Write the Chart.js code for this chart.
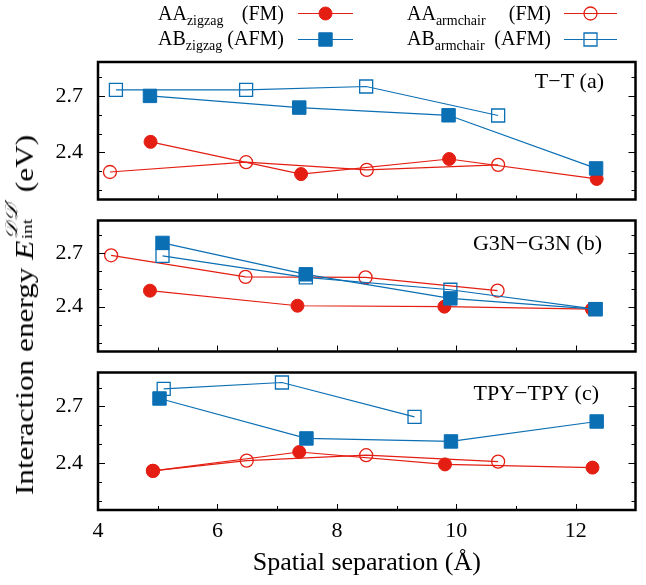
<!DOCTYPE html>
<html>
<head>
<meta charset="utf-8">
<script src="https://cdn.jsdelivr.net/npm/chart.js@4.4.1/dist/chart.umd.min.js"></script>
<style>
html, body { margin: 0; padding: 0; background: #fff; }
#wrap { position: relative; width: 646px; height: 585px; font-family: 'Liberation Serif', serif; color: #000; overflow: hidden; }
#wrap canvas { position: absolute; left: 0; }
.leg { position: absolute; display: flex; justify-content: space-between; font-size: 20px; line-height: 20px; white-space: nowrap; }
.leg sub { font-size: 14px; position: relative; top: 5px; vertical-align: baseline; }
#ytitle { position: absolute; left: -207px; top: 300px; width: 460px; height: 30px; line-height: 30px; font-size: 25px; text-align: center; transform: rotate(-90deg) scale(1.25, 1); white-space: nowrap; }
#ytitle .ss { display: inline-block; position: relative; width: 1.3em; height: 1em; }
#ytitle .ss span { position: absolute; left: 1px; line-height: 1; }
#ytitle .ss .up { top: -0.3em; font-size: 0.68em; font-family: 'DejaVu Serif', 'DejaVu Sans', serif; font-style: italic; }
#ytitle .ss .dn { top: 0.72em; font-size: 0.62em; }
</style>
</head>
<body>
<div id="wrap">
	<canvas id="panelA" width="646" height="210" style="top:0px"></canvas>
	<canvas id="panelB" width="646" height="152" style="top:210px"></canvas>
	<canvas id="panelC" width="646" height="223" style="top:362px"></canvas>

	<div class="leg" style="left:158px; top:3px; width:126px;"><span>AA<sub>zigzag</sub></span><span>(FM)</span></div>
	<div class="leg" style="left:158px; top:28px; width:126px;"><span>AB<sub>zigzag</sub></span><span>(AFM)</span></div>
	<div class="leg" style="left:407px; top:3px; width:144px;"><span>AA<sub>armchair</sub></span><span>(FM)</span></div>
	<div class="leg" style="left:407px; top:28px; width:144px;"><span>AB<sub>armchair</sub></span><span>(AFM)</span></div>

	<div id="ytitle">Interaction energy <i>E</i><span class="ss"><span class="up">𝒟𝒟′</span><span class="dn">int</span></span> (eV)</div>
</div>
<script>
(function () {
	'use strict';

	// axis ticks
	var xTickLabels = [4, 6, 8, 10, 12];
	var xMinorTicks = [5, 6, 7, 8, 9, 10, 11, 12];
	var yTickMarks = [2.2, 2.3, 2.4, 2.5, 2.6, 2.7, 2.8];
	var yTickLabels = [2.4, 2.7];

	// (a) T-T
	var aAAzigX = [4.88, 7.40, 9.88, 12.35];
	var aAAzigY = [2.456, 2.285, 2.365, 2.259];
	var aAAarmX = [4.20, 6.48, 8.50, 10.70];
	var aAAarmY = [2.296, 2.348, 2.307, 2.334];
	var aABzigX = [4.87, 7.37, 9.87, 12.34];
	var aABzigY = [2.700, 2.638, 2.597, 2.315];
	var aABarmX = [4.30, 6.48, 8.49, 10.70];
	var aABarmY = [2.732, 2.732, 2.750, 2.596];

	// (b) G3N-G3N
	var bAAzigX = [4.87, 7.34, 9.80, 12.27];
	var bAAzigY = [2.489, 2.405, 2.400, 2.386];
	var bAAarmX = [4.22, 6.47, 8.48, 10.69];
	var bAAarmY = [2.686, 2.566, 2.563, 2.489];
	var bABzigX = [5.08, 7.48, 9.90, 12.33];
	var bABzigY = [2.755, 2.580, 2.446, 2.386];
	var bABarmX = [5.08, 7.48, 9.90, 12.33];
	var bABarmY = [2.683, 2.563, 2.494, 2.386];

	// (c) TPY-TPY
	var cAAzigX = [4.92, 7.37, 9.81, 12.28];
	var cAAzigY = [2.358, 2.458, 2.392, 2.375];
	var cAAarmX = [4.92, 6.49, 8.49, 10.70];
	var cAAarmY = [2.358, 2.412, 2.441, 2.407];
	var cABzigX = [5.03, 7.49, 9.91, 12.35];
	var cABzigY = [2.742, 2.530, 2.514, 2.620];
	var cABarmX = [5.10, 7.08, 9.30];
	var cABarmY = [2.793, 2.827, 2.644];

	var RED = '#e41e12';
	var BLUE = '#0b6fb4';
	var FONT = 'Liberation Serif';

	var styles = {
		AAzig: { borderColor: RED, pointStyle: 'circle', pointRadius: 6.5, pointBackgroundColor: RED, pointBorderColor: RED, pointBorderWidth: 1, order: 1 },
		AAarm: { borderColor: RED, pointStyle: 'circle', pointRadius: 6.5, pointBackgroundColor: 'rgba(0,0,0,0)', pointBorderColor: RED, pointBorderWidth: 1.3, order: 3 },
		ABzig: { borderColor: BLUE, pointStyle: 'rect', pointRadius: 9.5, pointBackgroundColor: BLUE, pointBorderColor: BLUE, pointBorderWidth: 1, order: 0 },
		ABarm: { borderColor: BLUE, pointStyle: 'rect', pointRadius: 9.2, pointBackgroundColor: 'rgba(0,0,0,0)', pointBorderColor: BLUE, pointBorderWidth: 1.3, order: 2 }
	};

	function series(kind, xs, ys) {
		var d = {
			label: kind,
			data: xs.map(function (x, i) { return { x: x, y: ys[i] }; }),
			borderWidth: 1.2,
			tension: 0,
			fill: false
		};
		return Object.assign(d, styles[kind]);
	}

	function drawMarker(ctx, kind, x, y) {
		var s = styles[kind];
		var open = s.pointBackgroundColor.indexOf('rgba') === 0;
		ctx.save();
		ctx.beginPath();
		if (s.pointStyle === 'circle') {
			ctx.arc(x, y, s.pointRadius, 0, Math.PI * 2);
		} else {
			var h = s.pointRadius * Math.SQRT1_2;
			ctx.rect(x - h, y - h, 2 * h, 2 * h);
		}
		if (!open) {
			ctx.fillStyle = s.pointBackgroundColor;
			ctx.fill();
		}
		ctx.lineWidth = s.pointBorderWidth;
		ctx.strokeStyle = s.pointBorderColor;
		ctx.stroke();
		ctx.restore();
	}

	var framePlugin = {
		id: 'frame',
		afterDraw: function (chart, args, opts) {
			var ctx = chart.ctx;
			var a = chart.chartArea;
			var xs = chart.scales.x;
			var ys = chart.scales.y;
			ctx.save();
			ctx.strokeStyle = '#000';
			ctx.lineWidth = 1;
			yTickMarks.forEach(function (v) {
				var py = Math.round(ys.getPixelForValue(v)) + 0.5;
				var len = yTickLabels.indexOf(v) >= 0 ? 7 : 4;
				ctx.beginPath();
				ctx.moveTo(a.left, py); ctx.lineTo(a.left + len, py);
				ctx.moveTo(a.right, py); ctx.lineTo(a.right - len, py);
				ctx.stroke();
			});
			xMinorTicks.forEach(function (v) {
				var px = Math.round(xs.getPixelForValue(v)) + 0.5;
				var len = xTickLabels.indexOf(v) >= 0 ? 6 : 4;
				ctx.beginPath();
				ctx.moveTo(px, a.bottom); ctx.lineTo(px, a.bottom - len);
				ctx.stroke();
			});
			ctx.lineWidth = 2.5;
			ctx.strokeRect(a.left, a.top, a.right - a.left, a.bottom - a.top);

			ctx.fillStyle = '#000';
			ctx.font = '22px "' + FONT + '"';
			ctx.textAlign = 'right';
			ctx.textBaseline = 'middle';
			ctx.fillText(opts.tag, opts.tagX, a.top + opts.tagDy);

			if (opts.legend) {
				// legend samples (line + marker) in the top margin
				[['AAzig', 298, 353, 13.5], ['ABzig', 298, 353, 39.5], ['AAarm', 564, 617, 13.5], ['ABarm', 564, 617, 39.5]].forEach(function (k) {
					var s = styles[k[0]];
					ctx.beginPath();
					ctx.strokeStyle = s.borderColor;
					ctx.lineWidth = 1.2;
					ctx.moveTo(k[1], k[3]); ctx.lineTo(k[2], k[3]);
					ctx.stroke();
					drawMarker(ctx, k[0], (k[1] + k[2]) / 2, k[3]);
				});
			}
			ctx.restore();
		}
	};

	function makePanel(id, datasets, pad, showX, tag) {
		var ctx = document.getElementById(id).getContext('2d');
		return new Chart(ctx, {
			type: 'line',
			data: { datasets: datasets },
			plugins: [framePlugin],
			options: {
				responsive: false,
				animation: false,
				events: [],
				layout: { padding: { left: 0, right: 1, top: pad[0], bottom: pad[1] } },
				plugins: {
					legend: { display: false },
					tooltip: { enabled: false },
					frame: tag
				},
				scales: {
					x: {
						type: 'linear',
						min: 4,
						max: 13,
						afterBuildTicks: function (s) { s.ticks = xTickLabels.map(function (v) { return { value: v }; }); },
						afterFit: function (s) {
							s.height = showX ? 75 : 0;
							s.paddingLeft = 0;
							s.paddingRight = 0;
						},
						ticks: { display: showX, autoSkip: false, maxRotation: 0, padding: 8, color: '#000', font: { family: FONT, size: 22 } },
						grid: { display: false, drawTicks: false },
						border: { display: false },
						title: { display: showX, text: 'Spatial separation (Å)', color: '#000', font: { family: FONT, size: 26 }, padding: { top: 0, bottom: 6 } }
					},
					y: {
						type: 'linear',
						min: 2.15,
						max: 2.88,
						afterBuildTicks: function (s) { s.ticks = yTickMarks.map(function (v) { return { value: v }; }); },
						afterFit: function (s) {
							s.width = 98;
							s.paddingTop = 0;
							s.paddingBottom = 0;
						},
						ticks: {
							autoSkip: false,
							padding: 15,
							color: '#000',
							font: { family: FONT, size: 22 },
							callback: function (v) {
								var r = Math.round(v * 10) / 10;
								return yTickLabels.indexOf(r) >= 0 ? r.toFixed(1) : '';
							}
						},
						grid: { display: false, drawTicks: false },
						border: { display: false }
					}
				}
			}
		});
	}

	makePanel('panelA', [
		series('ABzig', aABzigX, aABzigY),
		series('AAzig', aAAzigX, aAAzigY),
		series('ABarm', aABarmX, aABarmY),
		series('AAarm', aAAarmX, aAAarmY)
	], [62, 7], false, { tag: 'T\u2212T (a)', tagX: 604, tagDy: 20, legend: true });

	makePanel('panelB', [
		series('ABzig', bABzigX, bABzigY),
		series('AAzig', bAAzigX, bAAzigY),
		series('ABarm', bABarmX, bABarmY),
		series('AAarm', bAAarmX, bAAarmY)
	], [5, 5.3], false, { tag: 'G3N\u2212G3N (b)', tagX: 602, tagDy: 24, legend: false });

	makePanel('panelC', [
		series('ABzig', cABzigX, cABzigY),
		series('AAzig', cAAzigX, cAAzigY),
		series('ABarm', cABarmX, cABarmY),
		series('AAarm', cAAarmX, cAAarmY)
	], [6, 0], true, { tag: 'TPY\u2212TPY (c)', tagX: 599, tagDy: 22, legend: false });
})();
</script>
</body>
</html>
